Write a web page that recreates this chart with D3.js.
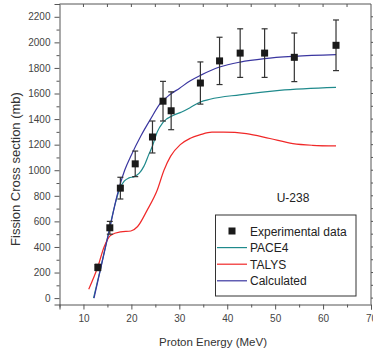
<!DOCTYPE html>
<html lang="en">
<head>
<meta charset="UTF-8">
<title>U-238 fission cross section</title>
<style>
  body { margin: 0; background: #fff; }
  svg { display: block; font-family: 'Liberation Sans', Arial, sans-serif; }
</style>
</head>
<body>
<svg id="chart" width="373" height="354"></svg>
<script src="https://cdn.jsdelivr.net/npm/d3@7"></script>
<script>
// experimental points: energy, cross section, error
const expEnergy = [13.0, 15.5, 17.7, 20.8, 24.4, 26.6, 28.3, 34.4, 38.4, 42.7, 47.8, 54.0, 62.7];
const expSigma  = [240, 550, 860, 1050, 1260, 1540, 1465, 1682, 1855, 1916, 1916, 1883, 1977];
const expErr    = [25, 50, 85, 100, 125, 155, 148, 165, 185, 190, 190, 190, 198];

const paceCurve = [[12.1, 0], [13.5, 220], [15, 470], [16.5, 720], [17.5, 850], [18.5, 915], [19.5, 940],
  [20.6, 950], [21.6, 975], [22.6, 1030], [23.6, 1120], [24.4, 1190], [25.4, 1300], [26.6, 1375],
  [28.8, 1430], [30.5, 1455], [32.3, 1490], [34.4, 1534], [36.4, 1555], [42.6, 1590], [50.9, 1625], [62.7, 1648]];

const talysCurve = [[11.1, 70], [13, 245], [14.3, 400], [15.7, 492], [17.8, 518], [19.9, 525], [21.3, 560],
  [23.3, 688], [25.4, 845], [26.8, 1000], [28.2, 1110], [30.2, 1200], [32.3, 1250], [34.4, 1278],
  [36.8, 1298], [39.2, 1298], [44.0, 1287], [48.9, 1248], [53.7, 1208], [57.8, 1195], [62.7, 1190]];

const calcCurve = [[12.2, 0], [14, 300], [15.5, 550], [17, 800], [18.6, 1000], [20, 1120], [22, 1270],
  [24, 1400], [26, 1520], [28, 1590], [30, 1640], [32.3, 1700], [34.4, 1742], [38.4, 1807],
  [42.7, 1846], [47.8, 1873], [54, 1891], [62.7, 1904]];

const xTicks = [10, 20, 30, 40, 50, 60, 70];
const yTicks = [0, 200, 400, 600, 800, 1000, 1200, 1400, 1600, 1800, 2000, 2200];

const svg = d3.select("#chart");
const x = d3.scaleLinear().domain([5, 70]).range([59.5, 371]);
const y = d3.scaleLinear().domain([-50, 2300]).range([304.5, 4]);

const tickColor = "#444";

// frame (top and right)
svg.append("line").attr("x1", x(5)).attr("x2", x(70)).attr("y1", y(2300)).attr("y2", y(2300))
  .attr("stroke", "#555").attr("stroke-width", 1);
svg.append("line").attr("x1", x(70)).attr("x2", x(70)).attr("y1", y(2300)).attr("y2", y(-50))
  .attr("stroke", "#555").attr("stroke-width", 1);

// top and right minor ticks
svg.append("g").selectAll("line").data(d3.range(10, 70, 5)).join("line")
  .attr("x1", d => x(d)).attr("x2", d => x(d))
  .attr("y1", y(2300)).attr("y2", y(2300) + 3)
  .attr("stroke", "#555");
svg.append("g").selectAll("line").data(d3.range(0, 2300, 100)).join("line")
  .attr("x1", x(70)).attr("x2", x(70) + 3)
  .attr("y1", d => y(d)).attr("y2", d => y(d))
  .attr("stroke", "#555");

// bottom axis
const xAxis = svg.append("g").attr("transform", `translate(0,${y(-50)})`)
  .call(d3.axisBottom(x).tickValues(xTicks).tickSize(5).tickPadding(5).tickFormat(d3.format("d")));
svg.append("g").attr("transform", `translate(0,${y(-50)})`)
  .call(d3.axisBottom(x).tickValues(d3.range(5, 70, 5).filter(v => v % 10)).tickSize(3).tickFormat(""))
  .call(g => g.select(".domain").remove());

// left axis
const yAxis = svg.append("g").attr("transform", `translate(${x(5)},0)`)
  .call(d3.axisLeft(y).tickValues(yTicks).tickSize(5).tickPadding(4).tickFormat(d3.format("d")));
svg.append("g").attr("transform", `translate(${x(5)},0)`)
  .call(d3.axisLeft(y).tickValues(d3.range(100, 2300, 200)).tickSize(3).tickFormat(""))
  .call(g => g.select(".domain").remove());

svg.selectAll(".domain").attr("stroke", "#555");
svg.selectAll(".tick line").attr("stroke", "#555");
svg.selectAll(".tick text").attr("fill", tickColor).attr("font-size", "10px")
  .attr("font-family", "'Liberation Sans', Arial, sans-serif");

// axis titles
svg.append("text").attr("x", 213).attr("y", 346).attr("text-anchor", "middle")
  .attr("font-size", "11.5px").attr("fill", "#333").text("Proton Energy (MeV)");
svg.append("text").attr("transform", "translate(20,169) rotate(-90)").attr("text-anchor", "middle")
  .attr("font-size", "13px").attr("fill", "#333").text("Fission Cross section (mb)");

// curves
const line = d3.line().x(d => x(d[0])).y(d => y(d[1])).curve(d3.curveMonotoneX);
const curves = [
  { data: paceCurve, color: "#1f8a8c" },
  { data: talysCurve, color: "#f02828" },
  { data: calcCurve, color: "#3a36a0" }
];
svg.append("g").selectAll("path").data(curves).join("path")
  .attr("d", d => line(d.data))
  .attr("fill", "none")
  .attr("stroke", d => d.color)
  .attr("stroke-width", 1.2);

// error bars
const exp = expEnergy.map((e, i) => ({ e, s: expSigma[i], err: expErr[i] }));
const eb = svg.append("g").attr("stroke", "#333").attr("stroke-width", 1.2);
eb.selectAll("line.v").data(exp).join("line").attr("class", "v")
  .attr("x1", d => x(d.e)).attr("x2", d => x(d.e))
  .attr("y1", d => y(d.s - d.err)).attr("y2", d => y(d.s + d.err));
eb.selectAll("line.t").data(exp).join("line").attr("class", "t")
  .attr("x1", d => x(d.e) - 3).attr("x2", d => x(d.e) + 3)
  .attr("y1", d => y(d.s + d.err)).attr("y2", d => y(d.s + d.err));
eb.selectAll("line.b").data(exp).join("line").attr("class", "b")
  .attr("x1", d => x(d.e) - 3).attr("x2", d => x(d.e) + 3)
  .attr("y1", d => y(d.s - d.err)).attr("y2", d => y(d.s - d.err));

// markers
svg.append("g").selectAll("rect").data(exp).join("rect")
  .attr("x", d => x(d.e) - 3.5).attr("y", d => y(d.s) - 3.5)
  .attr("width", 7).attr("height", 7).attr("fill", "#1a1a1a");

// label
svg.append("text").attr("x", 293).attr("y", 202).attr("text-anchor", "middle")
  .attr("font-size", "12px").attr("fill", "#222").text("U-238");

// legend
const legend = svg.append("g");
legend.append("rect").attr("x", 215.5).attr("y", 215).attr("width", 140.5).attr("height", 81)
  .attr("fill", "#fff").attr("stroke", "#333").attr("stroke-width", 1);
const legendItems = [
  { label: "Experimental data", type: "square", color: "#1a1a1a" },
  { label: "PACE4", type: "line", color: "#1f8a8c" },
  { label: "TALYS", type: "line", color: "#f02828" },
  { label: "Calculated", type: "line", color: "#3a36a0" }
];
legendItems.forEach((d, i) => {
  const cy = 231 + i * 16.6;
  if (d.type === "square") {
    legend.append("rect").attr("x", 228.5).attr("y", cy - 3.5).attr("width", 7).attr("height", 7).attr("fill", d.color);
  } else {
    legend.append("line").attr("x1", 217).attr("x2", 247).attr("y1", cy).attr("y2", cy)
      .attr("stroke", d.color).attr("stroke-width", 1.2);
  }
  legend.append("text").attr("x", 250).attr("y", cy + 4.5).attr("font-size", "12px")
    .attr("fill", "#222").text(d.label);
});
</script>
</body>
</html>
